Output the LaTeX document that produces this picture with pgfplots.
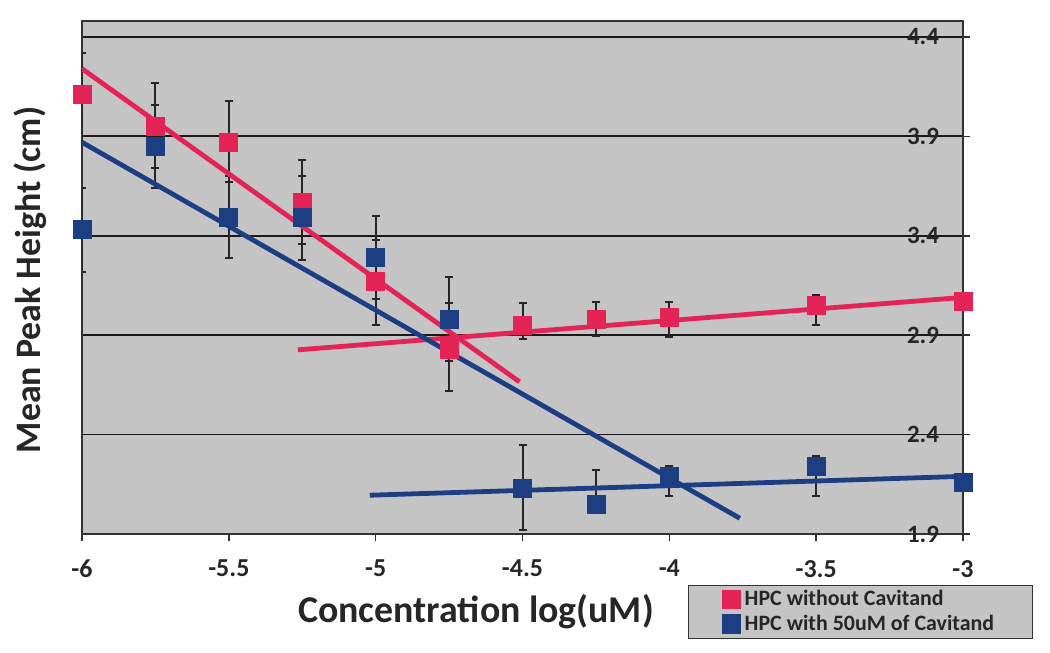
\documentclass[border=0pt]{standalone}
\usepackage{fontspec}
\setmainfont{Carlito}
\usepackage{pgfplots}
\usepackage{pgfplotstable}
\pgfplotsset{compat=1.18}

\definecolor{hpcred}{RGB}{228,36,86}
\definecolor{hpcblue}{RGB}{30,62,132}
\definecolor{plotbg}{RGB}{196,196,196}
\definecolor{frame}{RGB}{50,50,50}

% x  y  plus  minus
\pgfplotstableread{
x     y     ep     em
-6    4.11  0.21   0.21
-5.75 3.95  0.22   0.21
-5.5  3.87  0.21   0.20
-5.25 3.57  0.21   0.21
-5    3.17  0.21   0.22
-4.75 2.83  0.23   0.21
-4.5  2.95  0.11   0.07
-4.25 2.98  0.085  0.085
-4    2.99  0.075  0.10
-3.5  3.05  0.05   0.10
-3    3.07  0      0
}\without

\pgfplotstableread{
x     y     ep     em
-6    3.43  0.21   0.21
-5.75 3.85  0.21   0.21
-5.5  3.49  0.21   0.20
-5.25 3.49  0.21   0.21
-5    3.29  0.21   0.21
-4.75 2.98  0.21   0.21
-4.5  2.13  0.22   0.21
-4.25 2.05  0.17   0.03
-4    2.19  0.05   0.10
-3.5  2.24  0.05   0.15
-3    2.16  0      0
}\withcav

\begin{document}
\begin{tikzpicture}
\path[use as bounding box] (0,0) rectangle (525bp,326.5bp);
\begin{axis}[
    at={(41bp,59.5bp)}, anchor=south west,
    scale only axis,
    width=440.5bp, height=256.5bp,
    xmin=-6, xmax=-3,
    ymin=1.9, ymax=4.48,
    axis background/.style={fill=plotbg},
    axis line style={frame, line width=1bp},
    xtick={-6,-5.5,-5,-4.5,-4,-3.5,-3},
    xticklabels={-6,-5.5,-5,-4.5,-4,-3.5,-3},
    ytick={1.9,2.4,2.9,3.4,3.9,4.4},
    yticklabels={1.9,2.4,2.9,3.4,3.9,4.4},
    yticklabel pos=right,
    ymajorgrids,
    major grid style={black!90, line width=0.9bp},
    tick align=outside,
    major tick length=3.5bp,
    tick style={frame, line width=0.8bp},
    xtick pos=bottom,
    ytick pos=right,
    xticklabel style={font=\bfseries\fontsize{13}{13}\selectfont, text=black!85, yshift=-6bp},
    yticklabel style={font=\bfseries\fontsize{12.5}{12.5}\selectfont, text=black!85, anchor=east, xshift=-12bp},
    legend style={at={(0.688,-0.0994)}, anchor=north west,
        draw=frame, fill=plotbg, line width=0.6bp,
        font=\bfseries\fontsize{11}{11}\selectfont, text=black!85,
        inner xsep=17bp, inner ysep=0.5bp, row sep=-1bp},
    legend cell align=left,
]
\addplot[only marks, mark=square*, mark size=4.5bp, mark options={draw=hpcred, fill=hpcred},
    error bars/.cd, y dir=both, y explicit,
    error bar style={black!85, line width=1bp},
    error mark options={rotate=90, black!85, mark size=2bp, line width=1bp}]
    table[x=x, y=y, y error plus=ep, y error minus=em] {\without};
\addlegendentry{HPC without Cavitand}
\addplot[only marks, mark=square*, mark size=4.5bp, mark options={draw=hpcblue, fill=hpcblue},
    error bars/.cd, y dir=both, y explicit,
    error bar style={black!85, line width=1bp},
    error mark options={rotate=90, black!85, mark size=2bp, line width=1bp}]
    table[x=x, y=y, y error plus=ep, y error minus=em] {\withcav};
\addlegendentry{HPC with 50uM of Cavitand}

% trend lines
\addplot[forget plot, hpcred, line width=2.4bp] coordinates {(-6,4.24) (-4.51,2.665)};
\addplot[forget plot, hpcred, line width=2.4bp] coordinates {(-5.265,2.826) (-3,3.09)};
\addplot[forget plot, hpcblue, line width=2.4bp] coordinates {(-6,3.87) (-3.76,1.979)};
\addplot[forget plot, hpcblue, line width=2.4bp] coordinates {(-5.02,2.095) (-3,2.19)};
\end{axis}
\node[rotate=90, font=\bfseries\fontsize{18}{18}\selectfont, text=black!85] at (15bp,186.5bp) {Mean Peak Height (cm)};
\node[font=\bfseries\fontsize{19}{19}\selectfont, text=black!85] at (238bp,20.5bp) {Concentration log(uM)};
\end{tikzpicture}
\end{document}
